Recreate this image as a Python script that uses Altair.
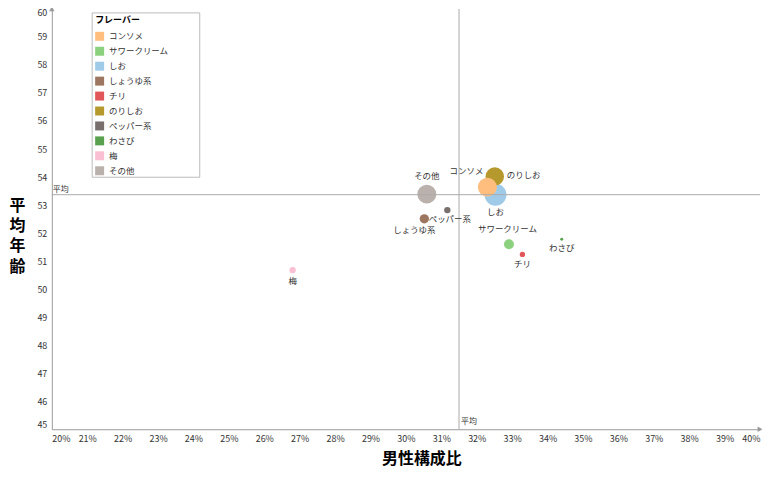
import altair as alt
import pandas as pd

# ---- data ----
flavors = ["コンソメ", "サワークリーム", "しお", "しょうゆ系", "チリ",
           "のりしお", "ペッパー系", "わさび", "梅", "その他"]
male_ratio = [0.3230, 0.3291, 0.3253, 0.3052, 0.3329,
              0.3251, 0.3117, 0.3440, 0.2680, 0.3059]
avg_age = [53.64, 51.60, 53.37, 52.51, 51.24,
           54.02, 52.82, 51.78, 50.68, 53.39]
respondents = [361, 100, 484, 88, 29, 346, 41, 9, 41, 361]
colors = ["#ffbe7d", "#8cd17d", "#a0cbe8", "#9d7660", "#e15759",
          "#b6992d", "#79706e", "#59a14f", "#fabfd2", "#bab0ac"]
draw_order = ["梅", "わさび", "チリ", "サワークリーム", "しょうゆ系",
              "ペッパー系", "その他", "しお", "のりしお", "コンソメ"]
mean_male = 0.3150
mean_age = 53.37
x_ticks = [0.20, 0.21, 0.22, 0.23, 0.24, 0.25, 0.26, 0.27, 0.28, 0.29, 0.30,
           0.31, 0.32, 0.33, 0.34, 0.35, 0.36, 0.37, 0.38, 0.39, 0.40]
y_ticks = [45, 46, 47, 48, 49, 50, 51, 52, 53, 54, 55, 56, 57, 58, 59, 60]

FONT = "Noto Sans CJK JP"
GRAY = "#999999"

df = pd.DataFrame({
    "flavor": flavors,
    "male": male_ratio,
    "age": avg_age,
    "n": respondents,
    "rank": [draw_order.index(f) for f in flavors],
})

xscale = alt.Scale(domain=[0.20, 0.40], nice=False, zero=False)
yscale = alt.Scale(domain=[45, 60], nice=False, zero=False)

xaxis = alt.Axis(values=x_ticks, format=".0%", labelFlush=True, ticks=False, grid=False,
                 domainColor=GRAY, labelFontSize=9, labelFont=FONT, labelColor="#333",
                 labelPadding=5, labelOverlap=False,
                 title="男性構成比", titleFont=FONT, titleFontSize=16, titleFontWeight="bold",
                 titleColor="black", titleX=371, titleY=29, titleBaseline="middle",
                 titleAlign="center")
yaxis = alt.Axis(values=y_ticks, labelFlush=True, ticks=False, grid=False,
                 domainColor=GRAY, labelFontSize=9, labelFont=FONT, labelColor="#333",
                 labelPadding=5, labelOverlap=False,
                 title=["平", "均", "年", "齢"], titleFont=FONT, titleFontSize=16,
                 titleFontWeight="bold", titleColor="black", titleAngle=0,
                 titleX=-35, titleY=197, titleAlign="center", titleBaseline="middle",
                 titleLineHeight=20.5)


def xf(field):
    return alt.X(field, type="quantitative", scale=xscale, axis=xaxis)


def yf(field):
    return alt.Y(field, type="quantitative", scale=yscale, axis=yaxis)


def xd(v):
    return alt.XDatum(v, type="quantitative", scale=xscale, axis=xaxis)


def yd(v):
    return alt.YDatum(v, type="quantitative", scale=yscale, axis=yaxis)


base = alt.Chart(df)
one = alt.Data(values=[{}])

points = base.mark_circle(opacity=1).encode(
    x=xf("male"),
    y=yf("age"),
    size=alt.Size("n:Q", scale=alt.Scale(domain=[0, 500], range=[0, 500]), legend=None),
    color=alt.Color("flavor:N", scale=alt.Scale(domain=flavors, range=colors),
                    legend=alt.Legend(title="フレーバー", orient="none", legendX=40.5, legendY=4,
                                      symbolType="square", symbolSize=81, symbolStrokeWidth=0,
                                      symbolOpacity=1, labelFont=FONT, labelFontSize=8.5,
                                      labelColor="#333", titleFont=FONT, titleFontSize=9,
                                      titleFontWeight="bold", titleColor="black",
                                      padding=3, rowPadding=6, titlePadding=7,
                                      labelOffset=5, strokeColor=None)),
    order=alt.Order("rank:Q"),
)

frame = alt.Chart(one).mark_rect(fill="white", stroke="#bbbbbb", strokeWidth=1).encode(
    x=alt.value(40.5), x2=alt.value(148.5), y=alt.value(4), y2=alt.value(169))

vrule = alt.Chart(one).mark_rule(color="#aaaaaa", strokeWidth=1).encode(x=xd(mean_male))
hrule = alt.Chart(one).mark_rule(color="#aaaaaa", strokeWidth=1).encode(y=yd(mean_age))

label_layout = {
    "その他": (0, -18.5, "center"),
    "コンソメ": (-21, -16, "center"),
    "のりしお": (12, -1, "left"),
    "しお": (0, 17.5, "center"),
    "ペッパー系": (2.5, 9, "center"),
    "しょうゆ系": (-10, 11.5, "center"),
    "サワークリーム": (-1.5, -15.5, "center"),
    "チリ": (0, 10, "center"),
    "わさび": (0, 9, "center"),
    "梅": (0, 10.5, "center"),
}
text_layers = []
for name, (dx, dy, al) in label_layout.items():
    text_layers.append(
        base.transform_filter(alt.datum.flavor == name).mark_text(
            dx=dx, dy=dy, align=al, baseline="middle", font=FONT, fontSize=8.5, color="#333"
        ).encode(x=xf("male"), y=yf("age"), text="flavor:N")
    )

avg_y_label = alt.Chart(one).mark_text(
    text="平均", align="left", baseline="bottom", dx=1, dy=-1, font=FONT, fontSize=8, color="#333"
).encode(x=xd(0.20), y=yd(mean_age))
avg_x_label = alt.Chart(one).mark_text(
    text="平均", align="left", baseline="bottom", dx=2, dy=-3, font=FONT, fontSize=8, color="#333"
).encode(x=xd(mean_male), y=yd(45))

arrow_up = alt.Chart(one).mark_point(shape="triangle-up", filled=True, size=30, color=GRAY,
                                     opacity=1).encode(x=xd(0.20), y=yd(60))
arrow_right = alt.Chart(one).mark_point(shape="triangle-right", filled=True, size=30, color=GRAY,
                                        opacity=1).encode(x=xd(0.40), y=yd(45))

chart = alt.layer(
    points, frame, vrule, hrule, *text_layers, avg_y_label, avg_x_label, arrow_up, arrow_right
).properties(
    width=711, height=422,
    autosize=alt.AutoSizeParams(type="none"),
    padding={"left": 44, "top": 0, "right": 2, "bottom": 40},
).configure_view(stroke=None)

chart.save("out.html", embed_options={"renderer": "svg", "actions": False})
